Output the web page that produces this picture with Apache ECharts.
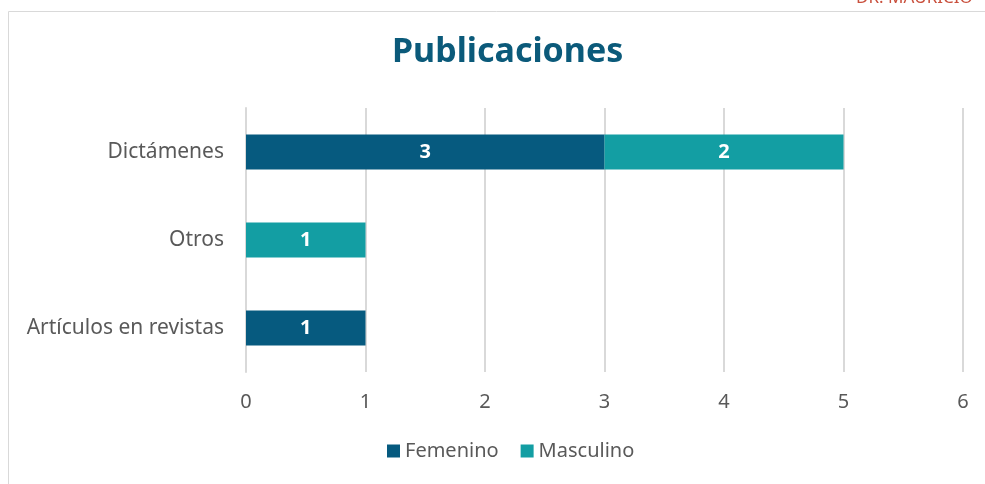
<!DOCTYPE html>
<html>
<head>
<meta charset="utf-8">
<script src="https://cdn.jsdelivr.net/npm/echarts@6/dist/echarts.min.js"></script>
<style>
  html, body { margin: 0; padding: 0; background: #fff; }
  #chart { width: 985px; height: 484px; }
</style>
</head>
<body>
<div id="chart"></div>
<script>
// categorías (de abajo hacia arriba, como en el eje)
const categories = ['Artículos en revistas', 'Otros', 'Dictámenes']
const femenino = [1, null, 3]
const masculino = [null, 1, 2]
const xTicks = [0, 1, 2, 3, 4, 5, 6]

const FONT = 'Noto Sans'
const chart = echarts.init(document.getElementById('chart'))

chart.setOption({
  animation: false,
  textStyle: { fontFamily: FONT },
  title: {
    text: 'Publicaciones',
    left: 387,
    top: 30,
    textStyle: { fontFamily: FONT, fontSize: 34, fontWeight: 'bold', color: '#0b5a7a' }
  },
  graphic: [
    // marco del gráfico
    {
      type: 'polyline',
      shape: { points: [[8.5, 484], [8.5, 11.5], [985, 11.5]] },
      style: { stroke: '#d9d9d9', lineWidth: 1, fill: null }
    },
    // texto recortado arriba a la derecha
    {
      type: 'text',
      left: 856,
      top: -10,
      style: { text: 'DR. MAURICIO', fill: '#c9503d', fontSize: 17, fontFamily: FONT }
    }
  ],
  legend: {
    bottom: 18,
    left: 382,
    icon: 'rect',
    itemWidth: 13,
    itemHeight: 13,
    itemGap: 22,
    textStyle: { fontSize: 20, color: '#595959', fontFamily: FONT },
    data: ['Femenino', 'Masculino']
  },
  grid: { left: 246, right: 22, top: 108, bottom: 112 },
  xAxis: {
    type: 'value',
    min: xTicks[0],
    max: xTicks[xTicks.length - 1],
    interval: 1,
    axisLine: { show: false },
    axisTick: { show: false },
    splitLine: { lineStyle: { color: '#d9d9d9', width: 2 } },
    axisLabel: { fontSize: 20, color: '#595959', margin: 20 }
  },
  yAxis: {
    type: 'category',
    data: categories,
    axisLine: { lineStyle: { color: '#d9d9d9', width: 2 } },
    axisTick: { show: false },
    axisLabel: { fontSize: 21, color: '#595959', margin: 22 }
  },
  series: [
    {
      name: 'Femenino',
      type: 'bar',
      stack: 'total',
      barCategoryGap: '60%',
      data: femenino,
      itemStyle: { color: '#065a7f' },
      label: { show: true, color: '#fff', fontSize: 20, fontWeight: 'bold' }
    },
    {
      name: 'Masculino',
      type: 'bar',
      stack: 'total',
      barCategoryGap: '60%',
      data: masculino,
      itemStyle: { color: '#139ea3' },
      label: { show: true, color: '#fff', fontSize: 20, fontWeight: 'bold' }
    }
  ]
})
</script>
</body>
</html>
